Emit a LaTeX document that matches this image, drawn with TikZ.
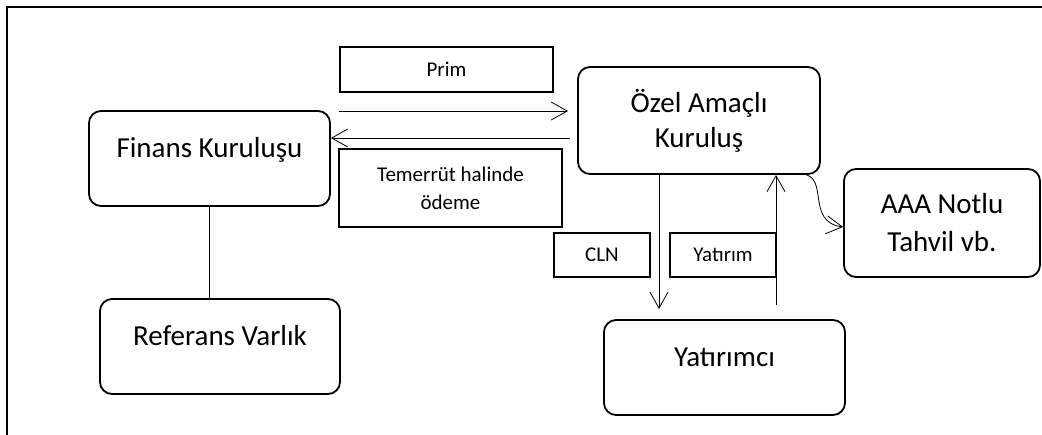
\documentclass[tikz,border=0pt]{standalone}
\usepackage{fontspec}
\setmainfont{Carlito}
\usetikzlibrary{arrows.meta}
\newcommand{\bigtxt}{\fontsize{29}{35}\selectfont}
\newcommand{\smalltxt}{\fontsize{21}{28}\selectfont}
\begin{document}
\begin{tikzpicture}[x=1pt, y=-1pt,
  party/.style={draw, line width=1.8pt, rounded corners=12pt, inner sep=0pt, align=center, font=\bigtxt},
  toptext/.style={text height=46pt, text depth=49pt},
  tag/.style={draw, line width=1.8pt, inner sep=0pt, align=center, font=\smalltxt},
  flow/.style={line width=0.8pt, -{Straight Barb[length=16pt, width=18pt, line width=0.8pt]}}]
\clip (0,0) rectangle (1042,434);
\draw [line width=1.8pt] (7,7) rectangle (1060,450);

\node [party, toptext, minimum width=241pt] (finans) at (209.5,158.5) {Finans Kuruluşu};
\node [party, toptext, minimum width=240pt] (referans) at (220,346.5) {Referans Varlık};
\node [party, minimum width=242pt, minimum height=107pt] (ozel) at (699,120.5) {Özel Amaçlı\\Kuruluş};
\node [party, minimum width=196pt, minimum height=108pt] (aaa) at (942,223) {AAA Notlu\\[3pt]Tahvil vb.};
\node [party, toptext, minimum width=241pt] (yatirimci) at (724.5,367.5) {Yatırımcı};

\node [tag, minimum width=213pt, minimum height=45pt] (prim) at (446.5,69.5) {Prim};
\node [tag, minimum width=223pt, minimum height=78pt] (temerrut) at (450.5,188) {Temerrüt halinde\\ödeme};
\node [tag, minimum width=96pt, minimum height=44pt] (cln) at (602,255) {CLN};
\node [tag, minimum width=106pt, minimum height=44pt] (yatirim) at (723,255) {Yatırım};

\coordinate (primfrom) at (339,111);
\coordinate (primto) at (568,111);
\coordinate (paidfrom) at (570,138);
\coordinate (clnto) at (659,309);
\coordinate (yatfrom) at (776,305);
\coordinate (bondfrom) at (802,174);

\draw [line width=0.8pt] (finans.south) -- (finans.south |- referans.north);
\draw [flow] (primfrom) -- (primto);
\draw [flow] (paidfrom) -- (paidfrom -| finans.east);
\draw [flow] (clnto |- ozel.south) -- (clnto);
\draw [flow] (yatfrom) -- (yatfrom |- ozel.south);
\draw [flow] (bondfrom) .. controls (830,176) and (805,222) .. ([yshift=-4pt]aaa.west);
\end{tikzpicture}
\end{document}
